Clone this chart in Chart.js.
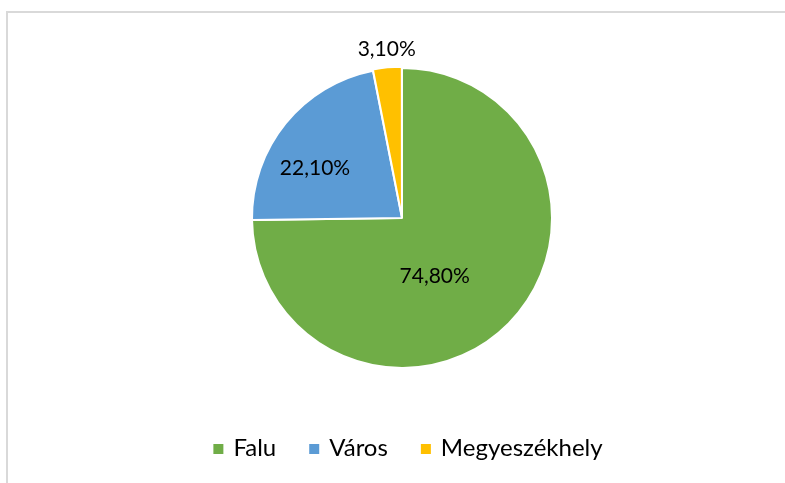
<!DOCTYPE html>
<html>
<head>
<meta charset="utf-8">
<script src="https://cdn.jsdelivr.net/npm/chart.js@4"></script>
<style>
  html, body { margin: 0; padding: 0; background: #fff; overflow: hidden; }
  #wrap { position: relative; width: 785px; height: 483px; }
  #frame { position: absolute; left: 6px; top: 11px; width: 800px; height: 500px;
           border-left: 2px solid #d9d9d9; border-top: 2px solid #d9d9d9; box-sizing: border-box; }
  canvas { position: absolute; left: 0; top: 0; }
</style>
</head>
<body>
<div id="wrap">
  <div id="frame"></div>
  <canvas id="c" width="785" height="483"></canvas>
</div>
<script>
const categories = ["Falu", "Város", "Megyeszékhely"];
const values = [74.8, 22.1, 3.1];
const valueLabels = ["74,80%", "22,10%", "3,10%"];
const colors = ["#70AD47", "#5B9BD5", "#FFC000"];

const FONT = "Lato, 'Open Sans', sans-serif";

// label baseline anchors relative to pie centre, in units of radius
const labelOffsets = [[0.218, 0.431], [-0.58, -0.287], [-0.102, -1.08]];

const labelPlugin = {
  id: 'sliceLabels',
  afterDatasetsDraw(chart) {
    const ctx = chart.ctx;
    const meta = chart.getDatasetMeta(0);
    ctx.save();
    ctx.font = "21px " + FONT;
    ctx.fillStyle = "#000";
    ctx.textAlign = "center";
    ctx.textBaseline = "alphabetic";
    meta.data.forEach((arc, i) => {
      const r = arc.outerRadius;
      const x = arc.x + labelOffsets[i][0] * r;
      const y = arc.y + labelOffsets[i][1] * r;
      ctx.fillText(valueLabels[i], x, y);
    });
    ctx.restore();
  }
};

const legendPlugin = {
  id: 'customLegend',
  afterDraw(chart) {
    const ctx = chart.ctx;
    const labels = chart.data.labels;
    const bg = chart.data.datasets[0].backgroundColor;
    const box = 10, boxGap = 10, itemGap = 33;
    const centerX = 408, baseline = 456, boxTop = 444;
    ctx.save();
    ctx.font = "24px " + FONT;
    ctx.textBaseline = "alphabetic";
    ctx.textAlign = "left";
    const widths = labels.map(l => ctx.measureText(l).width);
    const total = widths.reduce((a, w) => a + box + boxGap + w, 0) + itemGap * (labels.length - 1);
    let x = centerX - total / 2;
    labels.forEach((l, i) => {
      ctx.fillStyle = bg[i];
      ctx.fillRect(x, boxTop, box, box);
      ctx.fillStyle = "#000";
      ctx.fillText(l, x + box + boxGap, baseline);
      x += box + boxGap + widths[i] + itemGap;
    });
    ctx.restore();
  }
};

new Chart(document.getElementById('c'), {
  type: 'pie',
  data: {
    labels: categories,
    datasets: [{
      data: values,
      backgroundColor: colors,
      borderColor: "#ffffff",
      borderWidth: 2,
      offset: [0, 0, 3]
    }]
  },
  options: {
    responsive: false,
    animation: false,
    radius: 150,
    layout: { padding: { top: 68, bottom: 115, left: 19, right: 0 } },
    plugins: {
      tooltip: { enabled: false },
      legend: { display: false }
    }
  },
  plugins: [labelPlugin, legendPlugin]
});
</script>
</body>
</html>
